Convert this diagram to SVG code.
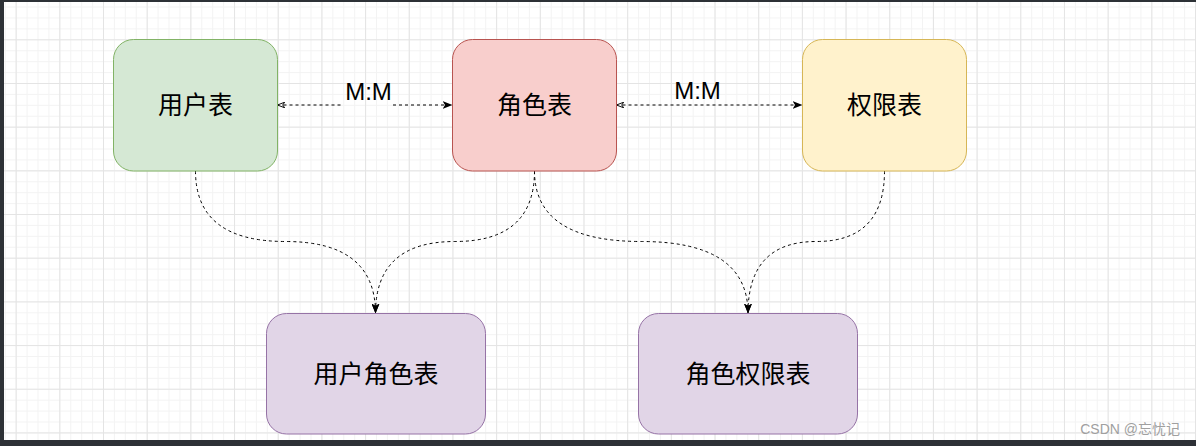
<svg xmlns="http://www.w3.org/2000/svg" width="1196" height="446" viewBox="0 0 1196 446">
<style>
.node rect{stroke-width:1}
.lbl{font-family:"Liberation Sans","Noto Sans CJK SC",sans-serif;font-size:25px;fill:#000;text-anchor:middle;dominant-baseline:central}
.mm{font-family:"Liberation Sans",Arial,sans-serif;font-size:24px;fill:#000;text-anchor:middle;dominant-baseline:central}
.edge{fill:none;stroke:#000;stroke-width:1;stroke-dasharray:3 3}
</style>
<defs>
<pattern id="minor" patternUnits="userSpaceOnUse" x="4.72" y="6.54" width="10.92" height="10.92">
<path d="M0.5 0 V10.92 M0 0.5 H10.92" stroke="#f3f3f3" stroke-width="1" fill="none"/>
</pattern>
<pattern id="major" patternUnits="userSpaceOnUse" x="15.64" y="-4.38" width="43.68" height="43.68">
<path d="M0.5 0 V43.68 M0 0.5 H43.68" stroke="#e4e4e4" stroke-width="1" fill="none"/>
</pattern>
<marker id="arrEnd" viewBox="0 0 10 8" refX="10" refY="4" markerWidth="10" markerHeight="8" orient="auto" markerUnits="userSpaceOnUse">
<path d="M0,0 L10,4 L0,8 L2.5,4 Z" fill="#000"/>
</marker>
<marker id="arrStart" viewBox="0 0 10 8" refX="9.5" refY="4" markerWidth="8" markerHeight="6.4" orient="auto-start-reverse" markerUnits="userSpaceOnUse">
<path d="M0.5,0.5 L9.5,4 L0.5,7.5 L3,4 Z" fill="#fff" stroke="#000" stroke-width="1.2"/>
</marker>
</defs>
<rect x="0" y="0" width="1196" height="446" fill="#fff"/>
<rect x="0" y="0" width="1196" height="446" fill="url(#minor)"/>
<rect x="0" y="0" width="1196" height="446" fill="url(#major)"/>
<g id="connectors">
<path class="edge" d="M277.5 105 H342" marker-start="url(#arrStart)"/>
<path class="edge" d="M393 105 H452.5" marker-end="url(#arrEnd)"/>
<path class="edge" d="M616.5 105 H802.5" marker-start="url(#arrStart)" marker-end="url(#arrEnd)"/>
<path class="edge" d="M195.5 171 Q195.5 241.5 285.5 241.5 Q375.5 241.5 375.5 313.5" marker-end="url(#arrEnd)"/>
<path class="edge" d="M534.5 171 Q534.5 241.5 455 241.5 Q375.5 241.5 375.5 313.5" marker-end="url(#arrEnd)"/>
<path class="edge" d="M534.5 171 Q534.5 241.5 641.25 241.5 Q748 241.5 748 313.5" marker-end="url(#arrEnd)"/>
<path class="edge" d="M884.5 171 Q884.5 241.5 816.25 241.5 Q748 241.5 748 313.5" marker-end="url(#arrEnd)"/>
<text class="mm" x="368.5" y="91">M:M</text>
<text class="mm" x="697.5" y="90">M:M</text>
</g>
<g id="user" class="node">
<rect x="113.5" y="39.5" width="164" height="131.5" rx="20" fill="#d5e8d4" stroke="#82b366"/>
<text class="lbl" x="195.5" y="105">用户表</text>
</g>
<g id="role" class="node">
<rect x="452.5" y="39.5" width="164" height="131.5" rx="20" fill="#f8cecc" stroke="#b85450"/>
<text class="lbl" x="534.5" y="105">角色表</text>
</g>
<g id="perm" class="node">
<rect x="802.5" y="39.5" width="164" height="131.5" rx="20" fill="#fff2cc" stroke="#d6b656"/>
<text class="lbl" x="884.5" y="105">权限表</text>
</g>
<g id="userRole" class="node">
<rect x="266.5" y="313.5" width="219" height="120.5" rx="20" fill="#e1d5e7" stroke="#9673a6"/>
<text class="lbl" x="376" y="373.5">用户角色表</text>
</g>
<g id="rolePerm" class="node">
<rect x="638.5" y="313.5" width="219" height="120.5" rx="20" fill="#e1d5e7" stroke="#9673a6"/>
<text class="lbl" x="748" y="373.5">角色权限表</text>
</g>
<text x="1180" y="434" font-family="Liberation Sans,'Noto Sans CJK SC',sans-serif" font-size="14" fill="#a0a0a0" text-anchor="end">CSDN @忘忧记</text>
<rect x="0" y="0" width="1196" height="2" fill="#2d3136"/>
<rect x="0" y="0" width="4" height="446" fill="#2d3136"/>
<rect x="0" y="440" width="1196" height="6" fill="#2d3136"/>
</svg>
